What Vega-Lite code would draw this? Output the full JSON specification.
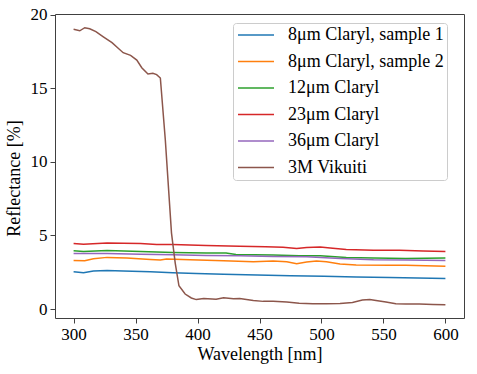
{
  "$schema": "https://vega.github.io/schema/vega-lite/v6.json",
  "width": 409,
  "height": 304,
  "autosize": {"type": "none"},
  "padding": {"left": 55, "top": 14, "right": 13, "bottom": 56},
  "background": "white",
  "config": {
    "view": {"stroke": "#404040", "strokeWidth": 1},
    "font": "Liberation Serif",
    "axis": {"grid": false, "domain": false, "tickColor": "#404040", "tickSize": 5, "labelFont": "Liberation Serif", "labelFontSize": 17, "labelColor": "#000", "titleFont": "Liberation Serif", "titleFontSize": 18, "titleFontWeight": "normal", "titleColor": "#000"}
  },
  "data": {"values": [
    {"s": "8μm Claryl, sample 1", "x": 300, "y": 2.53}, {"s": "8μm Claryl, sample 1", "x": 308, "y": 2.46}, {"s": "8μm Claryl, sample 1", "x": 316, "y": 2.58}, {"s": "8μm Claryl, sample 1", "x": 327, "y": 2.62}, {"s": "8μm Claryl, sample 1", "x": 340, "y": 2.58}, {"s": "8μm Claryl, sample 1", "x": 362, "y": 2.53}, {"s": "8μm Claryl, sample 1", "x": 380, "y": 2.46}, {"s": "8μm Claryl, sample 1", "x": 399, "y": 2.42}, {"s": "8μm Claryl, sample 1", "x": 421, "y": 2.37}, {"s": "8μm Claryl, sample 1", "x": 448, "y": 2.31}, {"s": "8μm Claryl, sample 1", "x": 475, "y": 2.26}, {"s": "8μm Claryl, sample 1", "x": 502, "y": 2.22}, {"s": "8μm Claryl, sample 1", "x": 528, "y": 2.17}, {"s": "8μm Claryl, sample 1", "x": 555, "y": 2.15}, {"s": "8μm Claryl, sample 1", "x": 600, "y": 2.08},
    {"s": "8μm Claryl, sample 2", "x": 300, "y": 3.30}, {"s": "8μm Claryl, sample 2", "x": 309, "y": 3.28}, {"s": "8μm Claryl, sample 2", "x": 316, "y": 3.42}, {"s": "8μm Claryl, sample 2", "x": 327, "y": 3.51}, {"s": "8μm Claryl, sample 2", "x": 343, "y": 3.46}, {"s": "8μm Claryl, sample 2", "x": 362, "y": 3.37}, {"s": "8μm Claryl, sample 2", "x": 370, "y": 3.33}, {"s": "8μm Claryl, sample 2", "x": 375, "y": 3.40}, {"s": "8μm Claryl, sample 2", "x": 394, "y": 3.35}, {"s": "8μm Claryl, sample 2", "x": 421, "y": 3.28}, {"s": "8μm Claryl, sample 2", "x": 445, "y": 3.21}, {"s": "8μm Claryl, sample 2", "x": 461, "y": 3.26}, {"s": "8μm Claryl, sample 2", "x": 472, "y": 3.21}, {"s": "8μm Claryl, sample 2", "x": 480, "y": 3.08}, {"s": "8μm Claryl, sample 2", "x": 488, "y": 3.19}, {"s": "8μm Claryl, sample 2", "x": 496, "y": 3.26}, {"s": "8μm Claryl, sample 2", "x": 504, "y": 3.21}, {"s": "8μm Claryl, sample 2", "x": 515, "y": 3.06}, {"s": "8μm Claryl, sample 2", "x": 528, "y": 2.99}, {"s": "8μm Claryl, sample 2", "x": 555, "y": 2.97}, {"s": "8μm Claryl, sample 2", "x": 568, "y": 2.97}, {"s": "8μm Claryl, sample 2", "x": 600, "y": 2.90},
    {"s": "12μm Claryl", "x": 300, "y": 3.96}, {"s": "12μm Claryl", "x": 308, "y": 3.91}, {"s": "12μm Claryl", "x": 327, "y": 3.98}, {"s": "12μm Claryl", "x": 354, "y": 3.91}, {"s": "12μm Claryl", "x": 380, "y": 3.84}, {"s": "12μm Claryl", "x": 407, "y": 3.80}, {"s": "12μm Claryl", "x": 423, "y": 3.80}, {"s": "12μm Claryl", "x": 431, "y": 3.71}, {"s": "12μm Claryl", "x": 461, "y": 3.67}, {"s": "12μm Claryl", "x": 482, "y": 3.62}, {"s": "12μm Claryl", "x": 499, "y": 3.62}, {"s": "12μm Claryl", "x": 520, "y": 3.51}, {"s": "12μm Claryl", "x": 542, "y": 3.46}, {"s": "12μm Claryl", "x": 568, "y": 3.44}, {"s": "12μm Claryl", "x": 600, "y": 3.46},
    {"s": "23μm Claryl", "x": 300, "y": 4.45}, {"s": "23μm Claryl", "x": 308, "y": 4.40}, {"s": "23μm Claryl", "x": 327, "y": 4.49}, {"s": "23μm Claryl", "x": 340, "y": 4.47}, {"s": "23μm Claryl", "x": 354, "y": 4.45}, {"s": "23μm Claryl", "x": 367, "y": 4.38}, {"s": "23μm Claryl", "x": 380, "y": 4.38}, {"s": "23μm Claryl", "x": 407, "y": 4.31}, {"s": "23μm Claryl", "x": 434, "y": 4.27}, {"s": "23μm Claryl", "x": 455, "y": 4.24}, {"s": "23μm Claryl", "x": 469, "y": 4.20}, {"s": "23μm Claryl", "x": 480, "y": 4.11}, {"s": "23μm Claryl", "x": 488, "y": 4.18}, {"s": "23μm Claryl", "x": 499, "y": 4.22}, {"s": "23μm Claryl", "x": 507, "y": 4.15}, {"s": "23μm Claryl", "x": 520, "y": 4.04}, {"s": "23μm Claryl", "x": 542, "y": 4.00}, {"s": "23μm Claryl", "x": 563, "y": 4.00}, {"s": "23μm Claryl", "x": 582, "y": 3.95}, {"s": "23μm Claryl", "x": 600, "y": 3.91},
    {"s": "36μm Claryl", "x": 300, "y": 3.78}, {"s": "36μm Claryl", "x": 327, "y": 3.78}, {"s": "36μm Claryl", "x": 354, "y": 3.73}, {"s": "36μm Claryl", "x": 380, "y": 3.69}, {"s": "36μm Claryl", "x": 407, "y": 3.64}, {"s": "36μm Claryl", "x": 434, "y": 3.62}, {"s": "36μm Claryl", "x": 461, "y": 3.57}, {"s": "36μm Claryl", "x": 488, "y": 3.55}, {"s": "36μm Claryl", "x": 515, "y": 3.44}, {"s": "36μm Claryl", "x": 542, "y": 3.35}, {"s": "36μm Claryl", "x": 568, "y": 3.33}, {"s": "36μm Claryl", "x": 600, "y": 3.30},
    {"s": "3M Vikuiti", "x": 300, "y": 19.01}, {"s": "3M Vikuiti", "x": 305, "y": 18.91}, {"s": "3M Vikuiti", "x": 309, "y": 19.12}, {"s": "3M Vikuiti", "x": 313, "y": 19.05}, {"s": "3M Vikuiti", "x": 318, "y": 18.85}, {"s": "3M Vikuiti", "x": 324, "y": 18.5}, {"s": "3M Vikuiti", "x": 331, "y": 18.1}, {"s": "3M Vikuiti", "x": 336, "y": 17.72}, {"s": "3M Vikuiti", "x": 340, "y": 17.42}, {"s": "3M Vikuiti", "x": 346, "y": 17.24}, {"s": "3M Vikuiti", "x": 351, "y": 16.92}, {"s": "3M Vikuiti", "x": 355, "y": 16.4}, {"s": "3M Vikuiti", "x": 360, "y": 15.97}, {"s": "3M Vikuiti", "x": 364, "y": 16.02}, {"s": "3M Vikuiti", "x": 367, "y": 15.93}, {"s": "3M Vikuiti", "x": 370, "y": 15.7}, {"s": "3M Vikuiti", "x": 374, "y": 11.5}, {"s": "3M Vikuiti", "x": 379, "y": 5.16}, {"s": "3M Vikuiti", "x": 382, "y": 3.12}, {"s": "3M Vikuiti", "x": 385, "y": 1.58}, {"s": "3M Vikuiti", "x": 390, "y": 1.02}, {"s": "3M Vikuiti", "x": 395, "y": 0.75}, {"s": "3M Vikuiti", "x": 399, "y": 0.64}, {"s": "3M Vikuiti", "x": 405, "y": 0.71}, {"s": "3M Vikuiti", "x": 415, "y": 0.66}, {"s": "3M Vikuiti", "x": 421, "y": 0.77}, {"s": "3M Vikuiti", "x": 429, "y": 0.70}, {"s": "3M Vikuiti", "x": 434, "y": 0.72}, {"s": "3M Vikuiti", "x": 445, "y": 0.58}, {"s": "3M Vikuiti", "x": 453, "y": 0.52}, {"s": "3M Vikuiti", "x": 461, "y": 0.52}, {"s": "3M Vikuiti", "x": 472, "y": 0.47}, {"s": "3M Vikuiti", "x": 482, "y": 0.40}, {"s": "3M Vikuiti", "x": 493, "y": 0.36}, {"s": "3M Vikuiti", "x": 504, "y": 0.36}, {"s": "3M Vikuiti", "x": 515, "y": 0.38}, {"s": "3M Vikuiti", "x": 525, "y": 0.45}, {"s": "3M Vikuiti", "x": 533, "y": 0.61}, {"s": "3M Vikuiti", "x": 539, "y": 0.65}, {"s": "3M Vikuiti", "x": 544, "y": 0.58}, {"s": "3M Vikuiti", "x": 552, "y": 0.47}, {"s": "3M Vikuiti", "x": 560, "y": 0.36}, {"s": "3M Vikuiti", "x": 568, "y": 0.34}, {"s": "3M Vikuiti", "x": 579, "y": 0.34}, {"s": "3M Vikuiti", "x": 590, "y": 0.31}, {"s": "3M Vikuiti", "x": 600, "y": 0.29}
  ]},
  "mark": {"type": "line", "strokeWidth": 1.5},
  "encoding": {
    "x": {"field": "x", "type": "quantitative", "scale": {"domain": [285, 615], "nice": false, "zero": false}, "axis": {"values": [300, 350, 400, 450, 500, 550, 600], "title": "Wavelength [nm]", "labelPadding": 3, "titlePadding": 3}},
    "y": {"field": "y", "type": "quantitative", "scale": {"domain": [-0.61, 20.05], "nice": false, "zero": false}, "axis": {"values": [0, 5, 10, 15, 20], "title": "Reflectance [%]", "labelPadding": 3, "titlePadding": 7, "titleY": 164}},
    "color": {"field": "s", "type": "nominal", "sort": null,
      "scale": {"domain": ["8μm Claryl, sample 1", "8μm Claryl, sample 2", "12μm Claryl", "23μm Claryl", "36μm Claryl", "3M Vikuiti"], "range": ["#1f77b4", "#ff7f0e", "#2ca02c", "#d62728", "#9467bd", "#8c564b"]},
      "legend": {"title": null, "orient": "none", "legendX": 178, "legendY": 9, "symbolType": "M-3,0H3", "symbolSize": 144, "symbolStrokeWidth": 1.5, "symbolOffset": 11, "labelFontSize": 18, "labelFont": "Liberation Serif", "labelColor": "#000", "labelOffset": 23, "rowPadding": 8.5, "padding": 3, "strokeColor": "#cccccc", "fillColor": "rgba(255,255,255,0.8)", "cornerRadius": 3, "offset": 0}
    }
  }
}
